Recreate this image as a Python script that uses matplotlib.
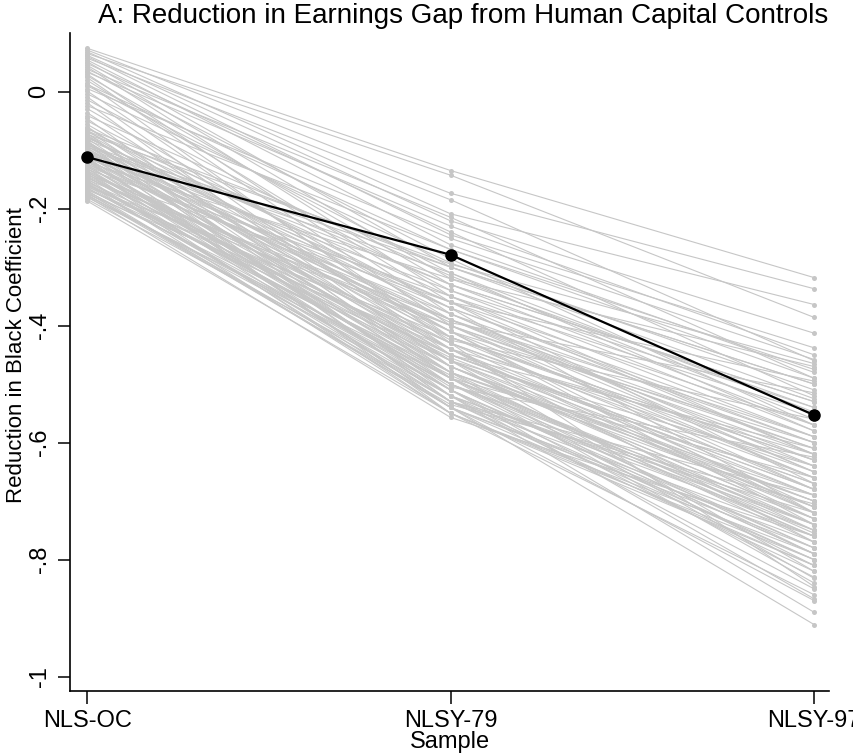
import matplotlib
matplotlib.use("Agg")
import matplotlib.pyplot as plt

plt.rcParams['font.family'] = ['Liberation Sans', 'DejaVu Sans']

samples = ["NLS-OC", "NLSY-79", "NLSY-97"]
y_ticks = [0, -0.2, -0.4, -0.6, -0.8, -1]
y_tick_labels = ["0", "-.2", "-.4", "-.6", "-.8", "-1"]

# each specification: value in NLS-OC, NLSY-79, NLSY-97
nls_oc = [0.074, 0.071, 0.068, 0.065, 0.062, 0.060, 0.057, 0.054, 0.051, 0.048,
          0.045, 0.042, 0.038, 0.035, 0.030, 0.027, 0.024, 0.019, 0.014, 0.010,
          0.005, 0.001, -0.004, -0.009, -0.014, -0.019, -0.024, -0.029, -0.036, -0.041,
          -0.046, -0.050, -0.056, -0.060,
          -0.064, -0.066, -0.069, -0.071, -0.073, -0.076, -0.078, -0.080, -0.083, -0.085,
          -0.087, -0.089, -0.091, -0.093, -0.095, -0.097, -0.099, -0.101, -0.103, -0.105,
          -0.107, -0.109, -0.111, -0.113, -0.115, -0.117, -0.119, -0.121, -0.123, -0.125,
          -0.127, -0.129, -0.131, -0.133, -0.135, -0.137, -0.139, -0.141, -0.143, -0.145,
          -0.147, -0.149, -0.151, -0.153, -0.155, -0.157, -0.159, -0.161, -0.163, -0.165,
          -0.167, -0.169, -0.171, -0.173, -0.175, -0.177, -0.179, -0.181, -0.184, -0.187,
          -0.072, -0.094, -0.118, -0.138, -0.158, -0.176,
          -0.062, -0.067, -0.074, -0.079, -0.084, -0.088, -0.092, -0.096, -0.100, -0.104,
          -0.108, -0.112, -0.116, -0.120, -0.124, -0.128, -0.132, -0.136, -0.140, -0.144,
          -0.148, -0.152, -0.156, -0.160, -0.164, -0.168, -0.172, -0.178, 0.033, 0.012]
nlsy79 = [-0.135, -0.174, -0.209, -0.143, -0.221, -0.245, -0.185, -0.262, -0.300, -0.240,
          -0.320, -0.350, -0.215, -0.286, -0.380, -0.330, -0.400, -0.360, -0.430, -0.310,
          -0.251, -0.420, -0.293, -0.450, -0.340, -0.470, -0.270, -0.390, -0.440, -0.315,
          -0.490, -0.370, -0.410, -0.460,
          -0.300, -0.480, -0.350, -0.520, -0.295, -0.440, -0.380, -0.500, -0.330, -0.460,
          -0.410, -0.530, -0.360, -0.480, -0.310, -0.430, -0.550, -0.390, -0.470, -0.340,
          -0.510, -0.420, -0.450, -0.370, -0.540, -0.400, -0.490, -0.320, -0.460, -0.520,
          -0.380, -0.440, -0.500, -0.350, -0.470, -0.530, -0.410, -0.480, -0.360, -0.510,
          -0.450, -0.540, -0.390, -0.490, -0.430, -0.550, -0.470, -0.520, -0.400, -0.500,
          -0.460, -0.540, -0.480, -0.530, -0.440, -0.510, -0.557, -0.490, -0.520, -0.550,
          -0.425, -0.395, -0.505, -0.455, -0.485, -0.535,
          -0.420, -0.330, -0.490, -0.370, -0.530, -0.450, -0.300, -0.510, -0.410, -0.470,
          -0.360, -0.540, -0.440, -0.500, -0.390, -0.480, -0.520, -0.430, -0.550, -0.460,
          -0.400, -0.530, -0.490, -0.450, -0.510, -0.420, -0.540, -0.500, -0.230, -0.270]
nlsy97 = [-0.318, -0.337, -0.364, -0.386, -0.413, -0.438, -0.460, -0.480, -0.500, -0.520,
          -0.470, -0.550, -0.490, -0.570, -0.600, -0.530, -0.620, -0.495, -0.660, -0.580,
          -0.458, -0.630, -0.510, -0.680, -0.540, -0.700, -0.475, -0.610, -0.720, -0.560,
          -0.660, -0.590, -0.740, -0.640,
          -0.525, -0.770, -0.620, -0.800, -0.465, -0.690, -0.650, -0.740, -0.570, -0.820,
          -0.600, -0.760, -0.670, -0.710, -0.548, -0.846, -0.790, -0.630, -0.730, -0.580,
          -0.867, -0.680, -0.610, -0.720, -0.780, -0.660, -0.750, -0.540, -0.700, -0.890,
          -0.640, -0.770, -0.810, -0.590, -0.740, -0.690, -0.720, -0.832, -0.620, -0.790,
          -0.670, -0.911, -0.650, -0.760, -0.710, -0.800, -0.730, -0.850, -0.680, -0.780,
          -0.750, -0.870, -0.700, -0.820, -0.730, -0.790, -0.760, -0.840, -0.740, -0.810,
          -0.560, -0.515, -0.625, -0.690, -0.755, -0.705,
          -0.640, -0.530, -0.790, -0.600, -0.720, -0.680, -0.500, -0.830, -0.660, -0.710,
          -0.570, -0.770, -0.620, -0.730, -0.590, -0.690, -0.750, -0.650, -0.860, -0.720,
          -0.610, -0.800, -0.740, -0.670, -0.780, -0.630, -0.810, -0.760, -0.450, -0.490]

baseline = [-0.112, -0.279, -0.553]

fig = plt.figure(figsize=(8.54, 7.54), dpi=100)
ax = fig.add_axes([0.082, 0.0836, 0.8887, 0.8726])

xpos = [1, 2, 3]
for a, b, c in zip(nls_oc, nlsy79, nlsy97):
    ax.plot(xpos, [a, b, c], color='#c6c6c6', lw=0.8, marker='o', ms=3.6,
            mec='none', mfc='#c6c6c6', zorder=1)

ax.plot(xpos, baseline, color='black', lw=1.6, marker='o', ms=8, zorder=3)

ax.set_xlim(0.953, 3.041)
ax.set_ylim(-1.0245, 0.1)
ax.set_xticks(xpos)
ax.set_xticklabels(samples, fontsize=17)
ax.set_yticks(y_ticks)
ax.set_yticklabels(y_tick_labels, fontsize=17, rotation=90, va='center')
for s in ['top', 'right']:
    ax.spines[s].set_visible(False)
for s in ['left', 'bottom']:
    ax.spines[s].set_linewidth(1.2)
ax.tick_params(axis='both', length=9, width=1.1, color='black')
ax.tick_params(axis='y', pad=5)
ax.tick_params(axis='x', pad=5)

ax.set_xlabel("Sample", fontsize=17, labelpad=-1)
fig.text(17 / 854, 1 - 355 / 754, "Reduction in Black Coefficient",
         rotation=90, ha='center', va='center', fontsize=16)
fig.text(463 / 854, 0.979, "A: Reduction in Earnings Gap from Human Capital Controls",
         ha='center', va='center', fontsize=20)

fig.savefig("out.png", dpi=100)
